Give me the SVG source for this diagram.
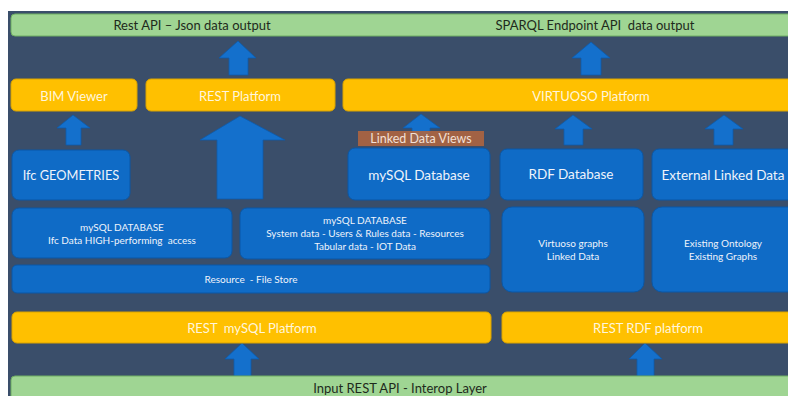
<svg xmlns="http://www.w3.org/2000/svg" width="788" height="396" viewBox="0 0 788 396">
<defs>
<style>
.green{fill:#9fd593;stroke:#6fae62;stroke-width:1}
.yellow{fill:#ffc000;stroke:#d9a300;stroke-width:1}
.blue{fill:#0f6bc6;stroke:#0b57a5;stroke-width:1}
.arrow{fill:#1470cc;stroke:#0d5bab;stroke-width:0.8}
text{font-family:Lato,"Open Sans","Liberation Sans",sans-serif;text-anchor:middle;dominant-baseline:central;white-space:pre}
.tg{fill:#1e2a1c;font-size:13px}
.ty{fill:#fff6dc;font-size:13px}
.tb{fill:#eef3fb;font-size:13.5px}
.ts{fill:#eef3fb;font-size:10px}
.tl{fill:#f3e0d6;font-size:12.5px}
</style>
</defs>
<rect x="0" y="0" width="788" height="396" fill="#ffffff"/>
<rect x="8" y="11" width="780" height="385" fill="#3a4e6a"/>

<g id="connectors">
<path class="arrow" d="M238 41 L256 58 L248 58 L248 75 L229 75 L229 58 L219 58 Z"/>
<path class="arrow" d="M591 42 L610 58 L601 58 L601 75 L581 75 L581 58 L572 58 Z"/>
<path class="arrow" d="M73 115 L90 128 L81 128 L81 145 L66 145 L66 128 L57 128 Z"/>
<path class="arrow" d="M240 116 L285 140 L263 140 L263 199 L217 199 L217 140 L200 140 Z"/>
<path class="arrow" d="M421 114 L440 128 L430 128 L430 146 L412 146 L412 128 L403 128 Z"/>
<path class="arrow" d="M573 115 L592 129 L583 129 L583 145 L564 145 L564 129 L555 129 Z"/>
<path class="arrow" d="M724 115 L743 129 L733 129 L733 145 L714 145 L714 129 L705 129 Z"/>
<path class="arrow" d="M242 343 L259 359 L251 359 L251 376 L234 376 L234 359 L225 359 Z"/>
<path class="arrow" d="M645 343 L662 359 L654 359 L654 376 L637 376 L637 359 L629 359 Z"/>
</g>

<g id="top-output">
<rect class="green" x="11" y="14" width="790" height="22" rx="4"/>
<text class="tg" x="192" y="25">Rest API – Json data output</text>
<text class="tg" x="595" y="25" xml:space="preserve">SPARQL Endpoint API  data output</text>
</g>

<g id="bim-viewer">
<rect class="yellow" x="11" y="79" width="126" height="32" rx="5"/>
<text class="ty" x="74" y="96">BIM Viewer</text>
</g>
<g id="rest-platform">
<rect class="yellow" x="146" y="79" width="189" height="32" rx="5"/>
<text class="ty" x="240" y="96">REST Platform</text>
</g>
<g id="virtuoso-platform">
<rect class="yellow" x="343" y="79" width="460" height="32" rx="5"/>
<text class="ty" x="591" y="96">VIRTUOSO Platform</text>
</g>

<g id="ifc-geometries">
<rect class="blue" x="12" y="150" width="118" height="50" rx="7"/>
<text class="tb" x="71" y="175" style="font-size:12.8px">Ifc GEOMETRIES</text>
</g>
<g id="mysql-database">
<rect class="blue" x="348" y="148" width="142" height="52" rx="7"/>
<text class="tb" x="419" y="175">mySQL Database</text>
</g>
<g id="rdf-database">
<rect class="blue" x="500" y="149" width="143" height="51" rx="7"/>
<text class="tb" x="571" y="174">RDF Database</text>
</g>
<g id="external-linked-data">
<rect class="blue" x="652" y="149" width="150" height="51" rx="7"/>
<text class="tb" x="723" y="175">External Linked Data</text>
</g>

<g id="linked-data-views">
<rect x="358" y="131" width="126" height="15" fill="#b0653f" fill-opacity="0.88"/>
<text class="tl" x="421" y="138.5">Linked Data Views</text>
</g>

<g id="mysql-ifc">
<rect class="blue" x="12" y="208" width="220" height="50" rx="7"/>
<text class="ts" x="122" y="227">mySQL DATABASE</text>
<text class="ts" x="122" y="240" xml:space="preserve">Ifc Data HIGH-performing  access</text>
</g>
<g id="mysql-system">
<rect class="blue" x="240" y="208" width="250" height="51" rx="7"/>
<text class="ts" x="365" y="220">mySQL DATABASE</text>
<text class="ts" x="365" y="233">System data - Users &amp; Rules data - Resources</text>
<text class="ts" x="365" y="246">Tabular data - IOT Data</text>
</g>
<g id="file-store">
<rect class="blue" x="12" y="265" width="478" height="28" rx="5"/>
<text class="ts" x="251" y="279" xml:space="preserve">Resource  - File Store</text>
</g>
<g id="virtuoso-graphs">
<rect class="blue" x="502" y="207" width="142" height="85" rx="10"/>
<text class="ts" x="573" y="243">Virtuoso graphs</text>
<text class="ts" x="573" y="256">Linked Data</text>
</g>
<g id="existing-ontology">
<rect class="blue" x="652" y="207" width="150" height="85" rx="10"/>
<text class="ts" x="723" y="243">Existing Ontology</text>
<text class="ts" x="723" y="256">Existing Graphs</text>
</g>

<g id="rest-mysql-platform">
<rect class="yellow" x="12" y="312" width="479" height="31" rx="5"/>
<text class="ty" x="252" y="328" xml:space="preserve">REST  mySQL Platform</text>
</g>
<g id="rest-rdf-platform">
<rect class="yellow" x="502" y="312" width="300" height="31" rx="5"/>
<text class="ty" x="648" y="328">REST RDF platform</text>
</g>

<g id="input-layer">
<rect class="green" x="11" y="376" width="790" height="30" rx="4"/>
<text class="tg" x="400" y="388">Input REST API - Interop Layer</text>
</g>
</svg>
